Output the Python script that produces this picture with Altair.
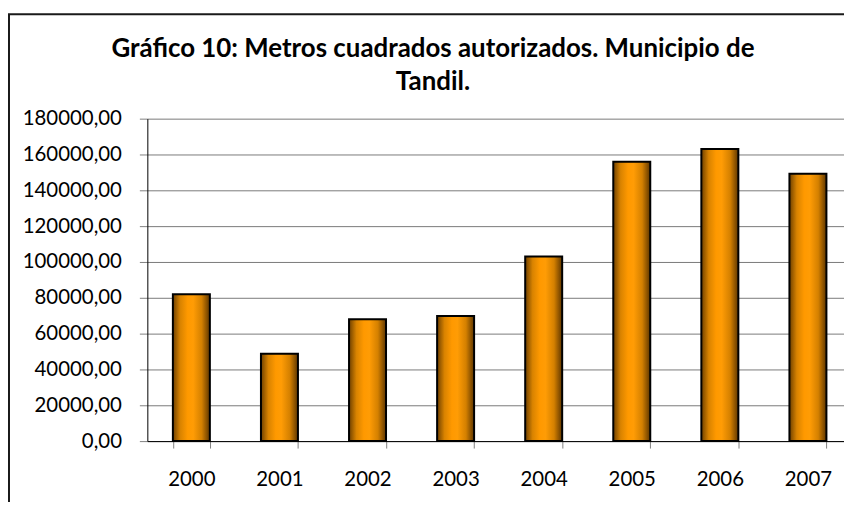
import altair as alt
import pandas as pd

years = ["2000", "2001", "2002", "2003", "2004", "2005", "2006", "2007"]
values = [82000, 48700, 68000, 69800, 103000, 156000, 163000, 149300]
y_ticks = [0, 20000, 40000, 60000, 80000, 100000, 120000, 140000, 160000, 180000]
title_lines = ["Gráfico 10: Metros cuadrados autorizados. Municipio de", "Tandil."]

df = pd.DataFrame({"year": years, "value": values})

gradient = alt.LinearGradient(
    gradient="linear",
    x1=0, x2=1, y1=0, y2=0,
    stops=[
        alt.GradientStop(color="#6e4000", offset=0),
        alt.GradientStop(color="#d98300", offset=0.2),
        alt.GradientStop(color="#ff9900", offset=0.4),
        alt.GradientStop(color="#ff9c05", offset=0.55),
        alt.GradientStop(color="#d48000", offset=0.78),
        alt.GradientStop(color="#5e3600", offset=1),
    ],
)

bars = alt.Chart(df).mark_bar(color=gradient, stroke="black", strokeWidth=2).encode(
    x=alt.X(
        "year:N",
        sort=years,
        scale=alt.Scale(range=[0, 708], paddingInner=0.58, paddingOuter=0.29),
        axis=alt.Axis(
            title=None, labelAngle=0, tickBand="extent", tickSize=7,
            tickColor="#808080", domainColor="black", domainWidth=1,
            labelPadding=22, labelFontSize=20.5, labelColor="black", grid=False,
        ),
    ),
    y=alt.Y(
        "value:Q",
        scale=alt.Scale(domain=[0, 180000]),
        axis=alt.Axis(
            title=None, values=y_ticks,
            labelExpr="replace(format(datum.value, '.2f'), '.', ',')",
            tickSize=8, tickColor="#808080", domainColor="black", domainWidth=1,
            labelPadding=18, labelFontSize=20.5, labelColor="black",
            grid=True, gridColor="#7a7a7a", gridWidth=1,
        ),
    ),
)

one = pd.DataFrame({"a": [0]})
frame_left = alt.Chart(one).mark_rule(color="#1a1a1a", strokeWidth=2).encode(
    x=alt.value(-139), y=alt.value(-105), y2=alt.value(400)
)
frame_top = alt.Chart(one).mark_rule(color="#1a1a1a", strokeWidth=2).encode(
    x=alt.value(-140), x2=alt.value(720), y=alt.value(-105)
)

title_style = dict(font="Lato", fontSize=26, fontWeight="bold", color="black",
                   align="center", baseline="alphabetic")
title1 = alt.Chart(one).mark_text(text=title_lines[0], **title_style).encode(
    x=alt.value(287), y=alt.value(-62)
)
title2 = alt.Chart(one).mark_text(text=title_lines[1], **title_style).encode(
    x=alt.value(287), y=alt.value(-29)
)

chart = alt.layer(bars, frame_left, frame_top, title1, title2).properties(
    width=700,
    height=324,
    autosize=alt.AutoSizeParams(type="none"),
    padding={"left": 140, "top": 110, "right": 0, "bottom": 60},
    background="white",
).configure(font="Lato").configure_view(stroke=None)

chart.save("out.html", embed_options={"renderer": "svg", "actions": False})
